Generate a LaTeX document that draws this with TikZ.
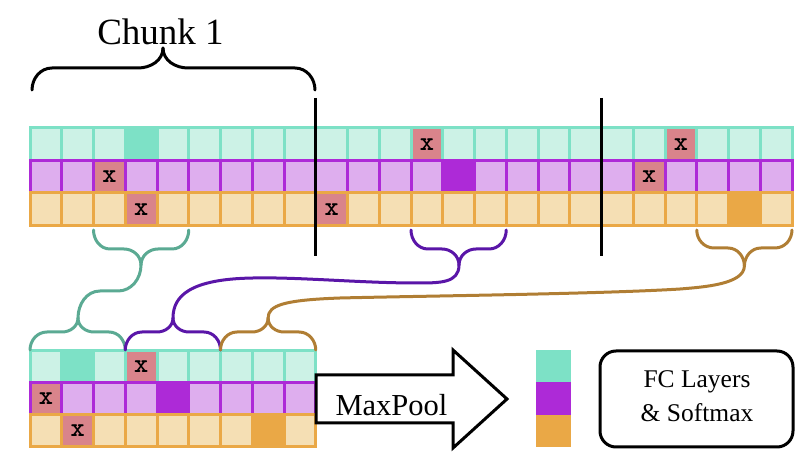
\documentclass[tikz,border=0pt]{standalone}
\usepackage{fontspec}
\setmainfont{Liberation Serif}
\definecolor{gL}{HTML}{CCF2E6}
\definecolor{gD}{HTML}{7DE1C6}
\definecolor{pL}{HTML}{DEAEEE}
\definecolor{pD}{HTML}{AD2AD7}
\definecolor{oL}{HTML}{F5DFB4}
\definecolor{oD}{HTML}{EAA846}
\definecolor{xc}{HTML}{D9848B}
\definecolor{gB}{HTML}{5BAA93}
\definecolor{pB}{HTML}{5A16A8}
\definecolor{oB}{HTML}{B07E34}
\newcommand\xmk{\fontsize{27}{27}\selectfont\ttfamily\bfseries x}
\newcommand\cellrow[5]{% prefix, color, y centre, height, pattern
  \foreach \k [count=\n from 0] in {#5} {
    \node[cellbase, minimum height=#4, cell={\k}{#2}] (#1-\n) at ({30+31.75*(\n+0.5)}, #3) {};
  }}
\begin{document}
\begin{tikzpicture}[x=1pt,y=-1pt,
  cellbase/.style={rectangle, inner sep=0pt, outer sep=0pt, minimum width=31.75pt, line width=3pt},
  cell/.code 2 args={\if#1L\tikzset{fill=#2L,draw=#2D}\fi\if#1D\tikzset{fill=#2D,draw=#2D}\fi\if#1X\tikzset{fill=xc,draw=#2D,execute at begin node=\xmk}\fi},
  brace/.style={line width=3pt, line cap=round, line join=round},
  sep/.style={line width=3pt, black},
  vec/.style={rectangle, inner sep=0pt, outer sep=0pt, minimum width=35pt, minimum height=32.5pt}]
\useasboundingbox (0,0) rectangle (812,470);

% ---- top grid ----
\cellrow{tg}{g}{144.25}{32.5pt}{L,L,L,D,L,L,L,L,L,L,L,L,X,L,L,L,L,L,L,L,X,L,L,L}
\cellrow{tp}{p}{176.75}{32.5pt}{L,L,X,L,L,L,L,L,L,L,L,L,L,D,L,L,L,L,L,X,L,L,L,L}
\cellrow{to}{o}{209.25}{32.5pt}{L,L,L,X,L,L,L,L,L,X,L,L,L,L,L,L,L,L,L,L,L,L,D,L}

% ---- bottom grid ----
\cellrow{bg}{g}{367}{32pt}{L,D,L,X,L,L,L,L,L}
\cellrow{bp}{p}{399}{32pt}{X,L,L,L,D,L,L,L,L}
\cellrow{bo}{o}{431}{32pt}{L,X,L,L,L,L,L,D,L}

% ---- chunk separators ----
\coordinate (s1a) at (315.75,98);
\coordinate (s1b) at (315.75,256);
\coordinate (s2a) at (601.5,98);
\coordinate (s2b) at (601.5,256);
\draw[sep] (s1a) -- (s1b);
\draw[sep] (s2a) -- (s2b);

% ---- Chunk 1 brace ----
\node[anchor=base, font=\fontsize{37}{40}\selectfont] (chunk) at (160.5,45) {Chunk 1};
\coordinate (cl) at (32,90);
\coordinate (cr) at (315,90);
\coordinate (ct) at (163,48);
\draw[brace, black] (cl) to[out=90,in=180] (52,68) -- (138,68) to[out=0,in=-90] (ct);
\draw[brace, black] (cr) to[out=90,in=0] (295,68) -- (188,68) to[out=180,in=-90] (ct);

% ---- teal brace ----
\coordinate (g1) at (93.5,230);
\coordinate (g2) at (188.75,230);
\coordinate (gt) at (141,265);
\coordinate (gb) at (78,318);
\coordinate (gb1) at (30,350);
\coordinate (gb2) at (125.25,350);
\draw[brace, gB] (g1) to[out=-90,in=180] (110,249) -- (124,249) to[out=0,in=90] (gt);
\draw[brace, gB] (g2) to[out=-90,in=0] (172,249) -- (158,249) to[out=180,in=90] (gt);
\draw[brace, gB] (gt) to[out=-90,in=0] (118,291) -- (100,291) to[out=180,in=90] (gb);
\draw[brace, gB] (gb) to[out=-90,in=0] (62,332) -- (47,332) to[out=180,in=90] (gb1);
\draw[brace, gB] (gb) to[out=-90,in=180] (94,332) -- (109,332) to[out=0,in=90] (gb2);

% ---- purple brace ----
\coordinate (p1) at (411,230);
\coordinate (p2) at (506.25,230);
\coordinate (pt) at (459,265);
\coordinate (pb) at (173,318);
\coordinate (pb1) at (125.25,350);
\coordinate (pb2) at (220.5,350);
\draw[brace, pB] (p1) to[out=-90,in=180] (428,249) -- (442,249) to[out=0,in=90] (pt);
\draw[brace, pB] (p2) to[out=-90,in=0] (489,249) -- (476,249) to[out=180,in=90] (pt);
\draw[brace, pB] (pt) .. controls (459,283) and (440,283) .. (417,283)
  .. controls (360,283) and (300,277) .. (253,278)
  .. controls (190,279) and (173,296) .. (pb);
\draw[brace, pB] (pb) to[out=-90,in=0] (157,332) -- (142,332) to[out=180,in=90] (pb1);
\draw[brace, pB] (pb) to[out=-90,in=180] (189,332) -- (204,332) to[out=0,in=90] (pb2);

% ---- orange brace ----
\coordinate (o1) at (696.75,230);
\coordinate (o2) at (792,230);
\coordinate (ot) at (744.4,266);
\coordinate (ob) at (268.1,318);
\coordinate (ob1) at (220.5,350);
\coordinate (ob2) at (315.75,350);
\draw[brace, oB] (o1) to[out=-90,in=180] (714,248) -- (728,248) to[out=0,in=90] (ot);
\draw[brace, oB] (o2) to[out=-90,in=0] (775,248) -- (761,248) to[out=180,in=90] (ot);
\draw[brace, oB] (ot) .. controls (744,284) and (705,287) .. (680,289)
  .. controls (600,294) and (420,296) .. (340,298)
  .. controls (285,300) and (268,305) .. (ob);
\draw[brace, oB] (ob) to[out=-90,in=0] (252,332) -- (237,332) to[out=180,in=90] (ob1);
\draw[brace, oB] (ob) to[out=-90,in=180] (284,332) -- (299,332) to[out=0,in=90] (ob2);

% ---- MaxPool arrow ----
\draw[line width=3pt, fill=white, line join=miter] (316,375) -- (453,375) -- (453,350) -- (507,399)
  -- (453,448) -- (453,423) -- (316,423) -- cycle;
\node[anchor=base west, font=\fontsize{30.5}{34}\selectfont] (mp) at (332,416) {MaxPool};

% ---- pooled vector ----
\node[vec, fill=gD] (v1) at (553.5,366.25) {};
\node[vec, fill=pD] (v2) at (553.5,398.75) {};
\node[vec, fill=oD] (v3) at (553.5,431.25) {};

% ---- FC box ----
\node[draw, line width=3pt, rounded corners=16pt, minimum width=193pt, minimum height=96pt] (fc) at (696.5,399) {};
\node[align=center, font=\fontsize{25.5}{34}\selectfont] (fct) at (697,396.5) {FC Layers\\\& Softmax};
\end{tikzpicture}
\end{document}
